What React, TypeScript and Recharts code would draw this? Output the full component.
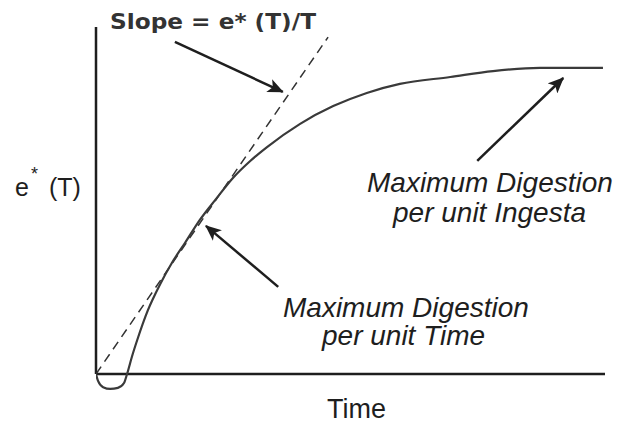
import React from 'react';
import { ComposedChart, Line, XAxis, YAxis, ReferenceLine } from 'recharts';

// digestion curve e*(T) (time 0–100, e* 0–100)
const curveTime = [0, 0.4, 1.4, 2.8, 4.3, 5.5, 6.1, 7.1, 8.1, 10.2, 12.6, 14.9, 17.5, 20.4, 23.4, 26.9, 30.3, 33.6, 40.1, 46.6, 53.2, 59.7, 69.6, 78.0, 87.2, 99.6];
const curveValue = [0, -2.0, -3.8, -4.3, -4.0, -2.6, 0, 5.2, 9.8, 18.4, 25.9, 32.0, 37.8, 44.4, 50.1, 56.5, 61.4, 65.4, 72.1, 77.2, 81.0, 83.6, 85.6, 87.3, 88.2, 88.2];

// tangent from the origin
const slopeTime = [0, 45.6];
const slopeValue = [0, 97.1];

// annotation arrows: [fromX, fromY, toX, toY]
const arrows = [
  [15.5, 95.7, 36.7, 81.3],
  [35.8, 25.1, 21.6, 42.7],
  [74.9, 61.4, 91.8, 85.3],
];

const curveData = curveTime.map((x, i) => ({ x, y: curveValue[i] }));
const slopeData = slopeTime.map((x, i) => ({ x, y: slopeValue[i] }));

const W = 625;
const H = 425;
const ink = '#1e1e1e';
const sans = '"Liberation Sans", Arial, sans-serif';

export default function App() {
  return (
    <div style={{ position: 'absolute', left: 0, top: 0, width: W, height: H, background: '#fff' }}>
      <svg width={0} height={0} style={{ position: 'absolute' }}>
        <defs>
          <marker id="arrowHead" markerUnits="userSpaceOnUse" markerWidth={16} markerHeight={14} refX={15} refY={7} orient="auto">
            <path d="M0,0 L16,7 L0,14 L4,7 Z" fill={ink} />
          </marker>
        </defs>
      </svg>
      <ComposedChart width={W} height={H} margin={{ top: 27, right: 20, bottom: 33.65, left: 96 }}>
        <XAxis dataKey="x" type="number" domain={[0, 100]} hide allowDataOverflow />
        <YAxis type="number" domain={[-5, 100]} hide allowDataOverflow />
        <ReferenceLine segment={[{ x: 0, y: 0 }, { x: 100, y: 0 }]} stroke={ink} strokeWidth={2.5} ifOverflow="visible" />
        <ReferenceLine segment={[{ x: 0, y: 0 }, { x: 0, y: 100 }]} stroke={ink} strokeWidth={2.5} ifOverflow="visible" />
        <Line data={slopeData} dataKey="y" type="linear" stroke="#333" strokeWidth={1.5} strokeDasharray="9 6" dot={false} activeDot={false} isAnimationActive={false} />
        <Line data={curveData} dataKey="y" type="monotone" stroke="#3a3a3a" strokeWidth={2.2} dot={false} activeDot={false} isAnimationActive={false} />
        {arrows.map((a, i) => (
          <ReferenceLine
            key={i}
            segment={[{ x: a[0], y: a[1] }, { x: a[2], y: a[3] }]}
            stroke={ink}
            strokeWidth={2.5}
            markerEnd="url(#arrowHead)"
            ifOverflow="visible"
          />
        ))}
      </ComposedChart>
      <svg width={W} height={H} style={{ position: 'absolute', left: 0, top: 0, pointerEvents: 'none' }}>
        <text x={110} y={29} fontFamily='"DejaVu Sans", sans-serif' fontWeight="bold" fontSize={22} fill="#333" textLength={206} lengthAdjust="spacingAndGlyphs">
          Slope = e* (T)/T
        </text>
        <text y={196} fontFamily={sans} fontSize={25} fill={ink}>
          <tspan x={15}>e</tspan>
          <tspan x={31} y={180} fontSize={18}>*</tspan>
          <tspan x={49} y={196}>(T)</tspan>
        </text>
        <text fontFamily={sans} fontStyle="italic" fontSize={28} fill={ink}>
          <tspan x={367} y={192}>Maximum Digestion</tspan>
          <tspan x={393} y={222}>per unit Ingesta</tspan>
        </text>
        <text fontFamily={sans} fontStyle="italic" fontSize={28} fill={ink}>
          <tspan x={283} y={317}>Maximum Digestion</tspan>
          <tspan x={322} y={345}>per unit Time</tspan>
        </text>
        <text x={327} y={418} fontFamily={sans} fontSize={27} fill={ink}>
          Time
        </text>
      </svg>
    </div>
  );
}
